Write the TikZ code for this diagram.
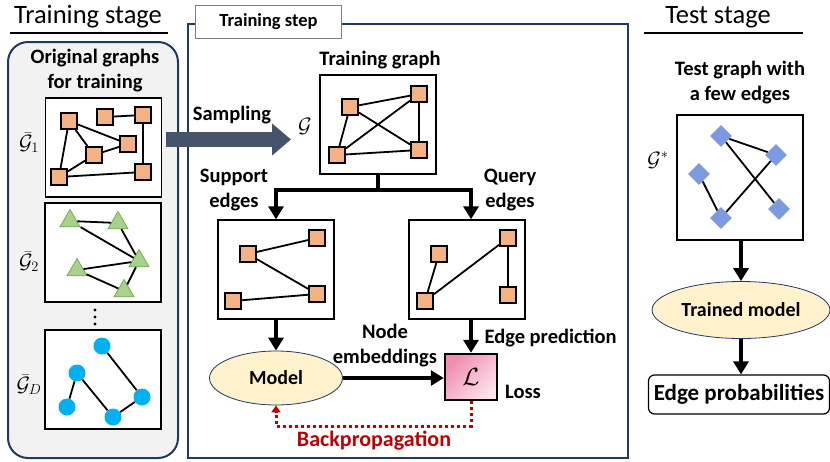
\documentclass[tikz,border=0pt]{standalone}
\usepackage{fontspec}
\setmainfont{Carlito}
\usetikzlibrary{arrows.meta,shapes.geometric,calc}
\definecolor{navy}{RGB}{32,56,100}
\definecolor{panelgray}{RGB}{242,242,242}
\definecolor{sqfill}{RGB}{244,177,131}
\definecolor{trifill}{RGB}{169,209,142}
\definecolor{triedge}{RGB}{112,173,71}
\definecolor{circfill}{RGB}{0,176,240}
\definecolor{diafill}{RGB}{125,153,224}
\definecolor{ellfill}{RGB}{255,242,204}
\definecolor{arrowslate}{RGB}{68,84,106}
\definecolor{bpred}{RGB}{192,0,0}
\definecolor{lossdark}{RGB}{242,140,176}
\definecolor{losslight}{RGB}{253,225,235}
\begin{document}
\begin{tikzpicture}[x=1pt,y=-1pt,
  gbox/.style={draw=black, line width=1.4pt, fill=white, minimum width=116pt, minimum height=99pt, inner sep=0pt},
  sq/.style={draw=black, line width=1.8pt, fill=sqfill, minimum size=16pt, inner sep=0pt},
  tri/.style={regular polygon, regular polygon sides=3, draw=triedge, line width=0.8pt, fill=trifill, minimum size=23pt, inner sep=0pt},
  circ/.style={circle, fill=circfill, minimum size=17pt, inner sep=0pt},
  dia/.style={diamond, fill=diafill, minimum width=22pt, minimum height=22pt, inner sep=0pt},
  gedge/.style={line width=1.8pt, black},
  flow/.style={line width=4pt, -{Triangle[length=13pt,width=15pt]}},
  titletext/.style={font=\fontsize{26.5}{30}\selectfont},
  lbl/.style={font=\bfseries\fontsize{20.5}{25}\selectfont, align=center},
  mlbl/.style={font=\fontsize{20}{24}\selectfont, inner sep=0pt},
  panel/.style={draw=navy, line width=2pt}
]
\useasboundingbox (0,0) rectangle (830,461);

% ---------- training stage ----------
\node[titletext] (trstage) at (88,17) {Training stage};
\draw[line width=1.5pt] (10,33) -- (168,33);
\node[panel, fill=panelgray, rounded corners=20pt, minimum width=170pt, minimum height=416pt] (trainpanel) at (93,250) {};
\node[lbl] (origlbl) at (95,71) {Original graphs\\for training};

\node[gbox] (g1box) at (103.5,147.5) {};
\node[gbox] (g2box) at (103,252.5) {};
\node[gbox] (gdbox) at (103,379.5) {};
\node[mlbl] (g1lbl) at (29,143) {$\bar{\mathcal{G}}_1$};
\node[mlbl] (g2lbl) at (29,262) {$\bar{\mathcal{G}}_2$};
\node[mlbl] (gdlbl) at (29,385) {$\bar{\mathcal{G}}_D$};
\foreach \yy in {310,317,324} \fill (95,\yy) circle (1.6pt);

% first original graph
\node[sq] (a1) at (69,121) {};
\node[sq] (a2) at (105,117) {};
\node[sq] (a3) at (143,115) {};
\node[sq] (a4) at (128,144) {};
\node[sq] (a5) at (94,155) {};
\node[sq] (a6) at (59,177) {};
\node[sq] (a7) at (143,172) {};
\draw[gedge] (a1) -- (a6) (a1) -- (a5) (a1) -- (a4) (a5) -- (a4) (a5) -- (a6)
  (a6) -- (a7) (a7) -- (a3) (a2) -- (a3);

% second original graph
\node[tri] (b1) at (70,221) {};
\node[tri] (b2) at (118,223) {};
\node[tri] (b3) at (139,261) {};
\node[tri] (b4) at (77,270) {};
\node[tri] (b5) at (124,291) {};
\draw[gedge] (b1) -- (b2) (b1) -- (b3) (b2) -- (b3) (b4) -- (b3) (b4) -- (b5) (b5) -- (b3);

% last original graph
\node[circ] (c1) at (102,346) {};
\node[circ] (c2) at (77,373) {};
\node[circ] (c3) at (67,407) {};
\node[circ] (c4) at (113,417) {};
\node[circ] (c5) at (142,397) {};
\draw[gedge] (c1) -- (c5) (c2) -- (c3) (c2) -- (c4) (c4) -- (c5);

% ---------- training step ----------
\node[panel, fill=white, minimum width=440pt, minimum height=434pt] (steppanel) at (408,241) {};
\node[draw=gray, line width=1pt, fill=white, minimum width=146pt, minimum height=33pt,
  font=\bfseries\fontsize{18.5}{22}\selectfont] (steplbl) at (268.5,21.5) {Training step};

\coordinate (sampstart) at (166,139.5);
\coordinate (sampend) at (291,139.5);
\draw[arrowslate, line width=15pt, -{Triangle[length=19pt,width=31pt]}] (sampstart) -- (sampend);
\node[lbl] (samplbl) at (232,115) {Sampling};
\node[mlbl] (gsym) at (305,126) {$\mathcal{G}$};

\node[lbl] (tglbl) at (380,60) {Training graph};
\node[gbox] (tg) at (378,124.5) {};
\node[sq] (p1) at (350,107) {};
\node[sq] (p2) at (419,94) {};
\node[sq] (p3) at (337,155) {};
\node[sq] (p4) at (419,150) {};
\draw[gedge] (p1) -- (p2) (p1) -- (p3) (p1) -- (p4) (p3) -- (p2) (p3) -- (p4) (p2) -- (p4);

% support / query split
\node[gbox] (sup) at (276,269.5) {};
\node[gbox] (qry) at (467,269.5) {};
\coordinate (br) at (378,190);
\draw[line width=4pt] (tg.south) -- (br);
\draw[flow] (br) -| (sup.north);
\node[lbl] (suplbl) at (234,190.5) {Support\\edges};
\node[lbl] (qrylbl) at (510,190.5) {Query\\edges};

\node[sq] (s1) at (248,254) {};
\node[sq] (s2) at (317,238) {};
\node[sq] (s3) at (233,301) {};
\node[sq] (s4) at (317,294) {};
\draw[gedge] (s1) -- (s2) (s1) -- (s4) (s3) -- (s4);

\node[sq] (q1) at (439,254) {};
\node[sq] (q2) at (508,238) {};
\node[sq] (q3) at (425,301) {};
\node[sq] (q4) at (508,295) {};
\draw[gedge] (q1) -- (q3) (q3) -- (q2) (q2) -- (q4);

% model and loss
\node[ellipse, draw=navy, line width=0.8pt, fill=ellfill, minimum width=133pt, minimum height=54pt,
  font=\bfseries\fontsize{20}{24}\selectfont] (model) at (276,378) {Model};
\node[draw=black, line width=2.5pt, minimum width=52pt, minimum height=46pt,
  left color=lossdark, right color=losslight, shading angle=45,
  font=\fontsize{24}{28}\selectfont] (loss) at (471,377) {$\mathcal{L}$};
\draw[flow] (br) -| (qry.north -| loss.north);
\draw[flow] (sup.south) -- (model.north);
\draw[flow] (model.east) -- (loss.west |- model.east);
\draw[flow] (qry.south -| loss.north) -- (loss.north);
\node[lbl] (emblbl) at (385,345.5) {Node\\embeddings};
\node[lbl, anchor=west] (predlbl) at (481,338) {Edge prediction};
\node[lbl] (losslbl) at (523,392) {Loss};

\draw[bpred, line width=3pt, dash pattern=on 3pt off 3pt, -{Triangle[length=7pt,width=9pt]}]
  (loss.south) -- ++(0,25) -| (model.south);
\node[lbl, text=bpred, font=\bfseries\fontsize{22}{26}\selectfont] (bplbl) at (374,441) {Backpropagation};

% ---------- test stage ----------
\node[titletext] (testage) at (718,17) {Test stage};
\draw[line width=1.5pt] (644,33) -- (803,33);
\node[lbl] (testlbl) at (740,82.5) {Test graph with\\a few edges};
\node[draw=black, line width=1.4pt, fill=white, minimum width=126pt, minimum height=125pt] (gstar) at (740,177.5) {};
\node[mlbl] (gstarlbl) at (658,160) {$\mathcal{G}^*$};
\node[dia] (d1) at (721,136) {};
\node[dia] (d2) at (776,155) {};
\node[dia] (d3) at (699,174) {};
\node[dia] (d4) at (721,218) {};
\node[dia] (d5) at (779,209) {};
\draw[gedge] (d1) -- (d2) (d1) -- (d5) (d2) -- (d4) (d3) -- (d4);

\node[ellipse, draw=navy, line width=0.8pt, fill=ellfill, minimum width=153pt, minimum height=57pt,
  font=\bfseries\fontsize{20}{24}\selectfont] (tm) at (741,310) {Trained model};
\node[draw=black, line width=1.2pt, rounded corners=6pt, fill=white, minimum width=181pt, minimum height=39pt,
  font=\bfseries\fontsize{23}{27}\selectfont] (ep) at (739,394.5) {Edge probabilities};
\draw[flow] (gstar.south -| tm.north) -- (tm.north);
\draw[flow] (tm.south) -- (ep.north -| tm.south);
\end{tikzpicture}
\end{document}
